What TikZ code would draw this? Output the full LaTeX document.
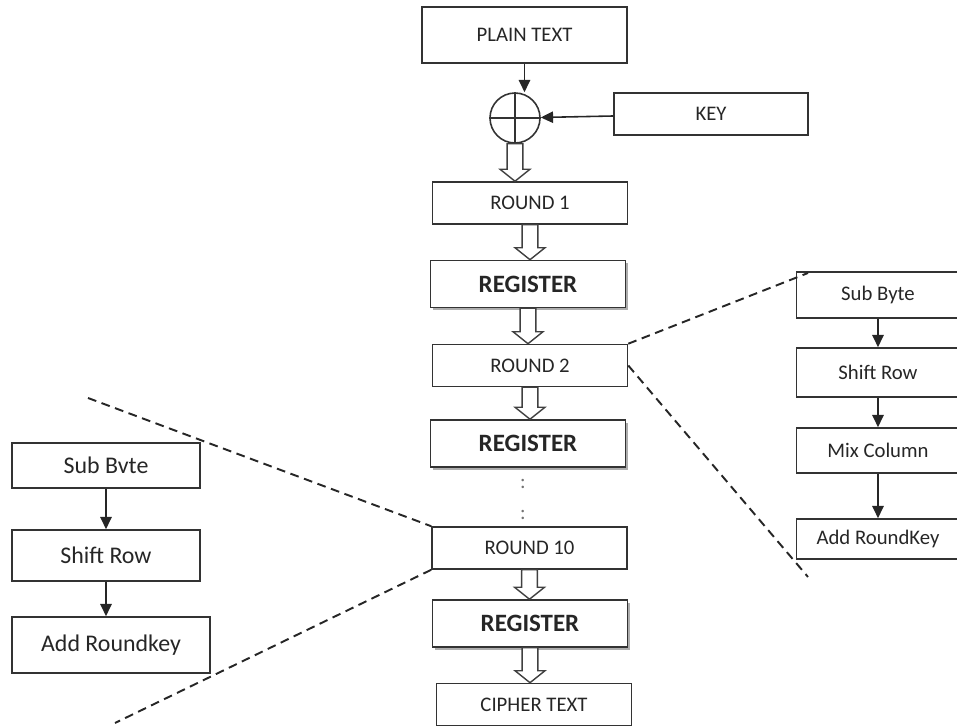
\documentclass[tikz,border=0pt]{standalone}
\usepackage{fontspec}
\setmainfont{Carlito}
\usetikzlibrary{arrows.meta,calc,shadows}

\tikzset{
	blk/.style={draw=black!80, line width=0.9pt, rectangle, text=black!85,
		font=\fontsize{11.8}{13}\selectfont, minimum width=3.9cm, minimum height=0.84cm},
	regblk/.style={blk, font=\fontsize{14.2}{16}\bfseries\selectfont, minimum height=0.94cm,
		fill=white, drop shadow={shadow xshift=1.6pt, shadow yshift=-1.6pt, fill=black!40, opacity=0.8}},
	sideblk/.style={blk, minimum width=3.26cm},
	leftblk/.style={blk, font=\fontsize{13.6}{16}\selectfont, minimum width=3.76cm},
	dotmark/.style={text=black!55, font=\fontsize{11.8}{13}\selectfont, inner sep=0pt},
	arr/.style={draw=black!85, line width=0.9pt, -{Triangle[width=6.5pt,length=7pt]}},
	hollow/.style={draw=black!75, line width=0.8pt, fill=white,
		to path={let \p1=(\tikztostart), \p2=(\tikztotarget) in
			(\x1-4.5pt,\y1) -- (\x1-4.5pt,\y2+6.8pt) -- (\x1-8.5pt,\y2+6.8pt) -- (\x1,\y2)
			-- (\x1+8.5pt,\y2+6.8pt) -- (\x1+4.5pt,\y2+6.8pt) -- (\x1+4.5pt,\y1) -- cycle}},
	dashline/.style={draw=black!85, line width=1.1pt, dash pattern=on 5pt off 3.2pt}
}

\begin{document}
\begin{tikzpicture}[x=0.02cm, y=-0.02cm]
	\clip (0,0) rectangle (957,726);
	% main column
	\node[blk, minimum width=4.1cm, minimum height=1.12cm] (plain) at (524.5,35) {PLAIN TEXT};
	\node[circle, draw=black!80, line width=0.9pt, minimum size=1cm] (xor) at (515,118) {};
	\draw[black!80, line width=0.9pt] (xor.north) -- (xor.south) (xor.west) -- (xor.east);
	\node[blk, minimum width=3.88cm] (key) at (711,114) {KEY};
	\node[blk] (r1)   at (530,203)   {ROUND 1};
	\node[regblk] (reg1) at (528,284) {REGISTER};
	\node[blk] (r2)   at (530,365.5) {ROUND 2};
	\node[regblk] (reg2) at (528,443.5) {REGISTER};
	\node[dotmark] (dots1) at (523,484) {:};
	\node[dotmark] (dots2) at (523,515) {:};
	\node[blk] (r10)  at (529.5,548) {ROUND 10};
	\node[regblk] (reg3) at (530,623.5) {REGISTER};
	\node[blk] (cipher) at (534,704.5) {CIPHER TEXT};
	% round 2 detail
	\node[sideblk, minimum height=0.92cm] (sb) at (878,295)   {Sub Byte};
	\node[sideblk, minimum height=0.98cm] (sr) at (878,372.5) {Shift Row};
	\node[sideblk, minimum height=0.9cm]  (mc) at (878,450.5) {Mix Column};
	\node[sideblk, minimum height=0.8cm]  (ak) at (878,539)   {Add RoundKey};
	% round 10 detail
	\node[leftblk, minimum height=0.9cm]  (lsb) at (106,465.5) {Sub Bvte};
	\node[leftblk, minimum height=1.02cm] (lsr) at (106,555.5) {Shift Row};
	\node[leftblk, minimum width=3.96cm, minimum height=1.12cm] (lak) at (111,645) {Add Roundkey};
	\coordinate (rt) at (808,273);
	\coordinate (rb) at (808,577);
	\coordinate (lt) at (88,398);
	\coordinate (lb) at (115,723);

	\draw[arr] (plain) -- (plain |- xor.north);
	\draw[arr] (key) -- (xor);
	\foreach \from/\to in {
		xor/r1, r1/reg1, reg1/r2, r2/reg2,
		r10/reg3, reg3/cipher}
	\draw[hollow] (\from.south) to (\to.north);
	\foreach \from/\to in {sb/sr, sr/mc, mc/ak, lsb/lsr}
	\draw[arr] (\from) -- (\to);
	\draw[arr] (lsr.south) -- (lsr.south |- lak.north);
	\draw[dashline] (r2.north east) -- (rt);
	\draw[dashline] (r2.east) -- (rb);
	\draw[dashline] (lt) -- (r10.north west);
	\draw[dashline] (r10.south west) -- (lb);
\end{tikzpicture}
\end{document}
